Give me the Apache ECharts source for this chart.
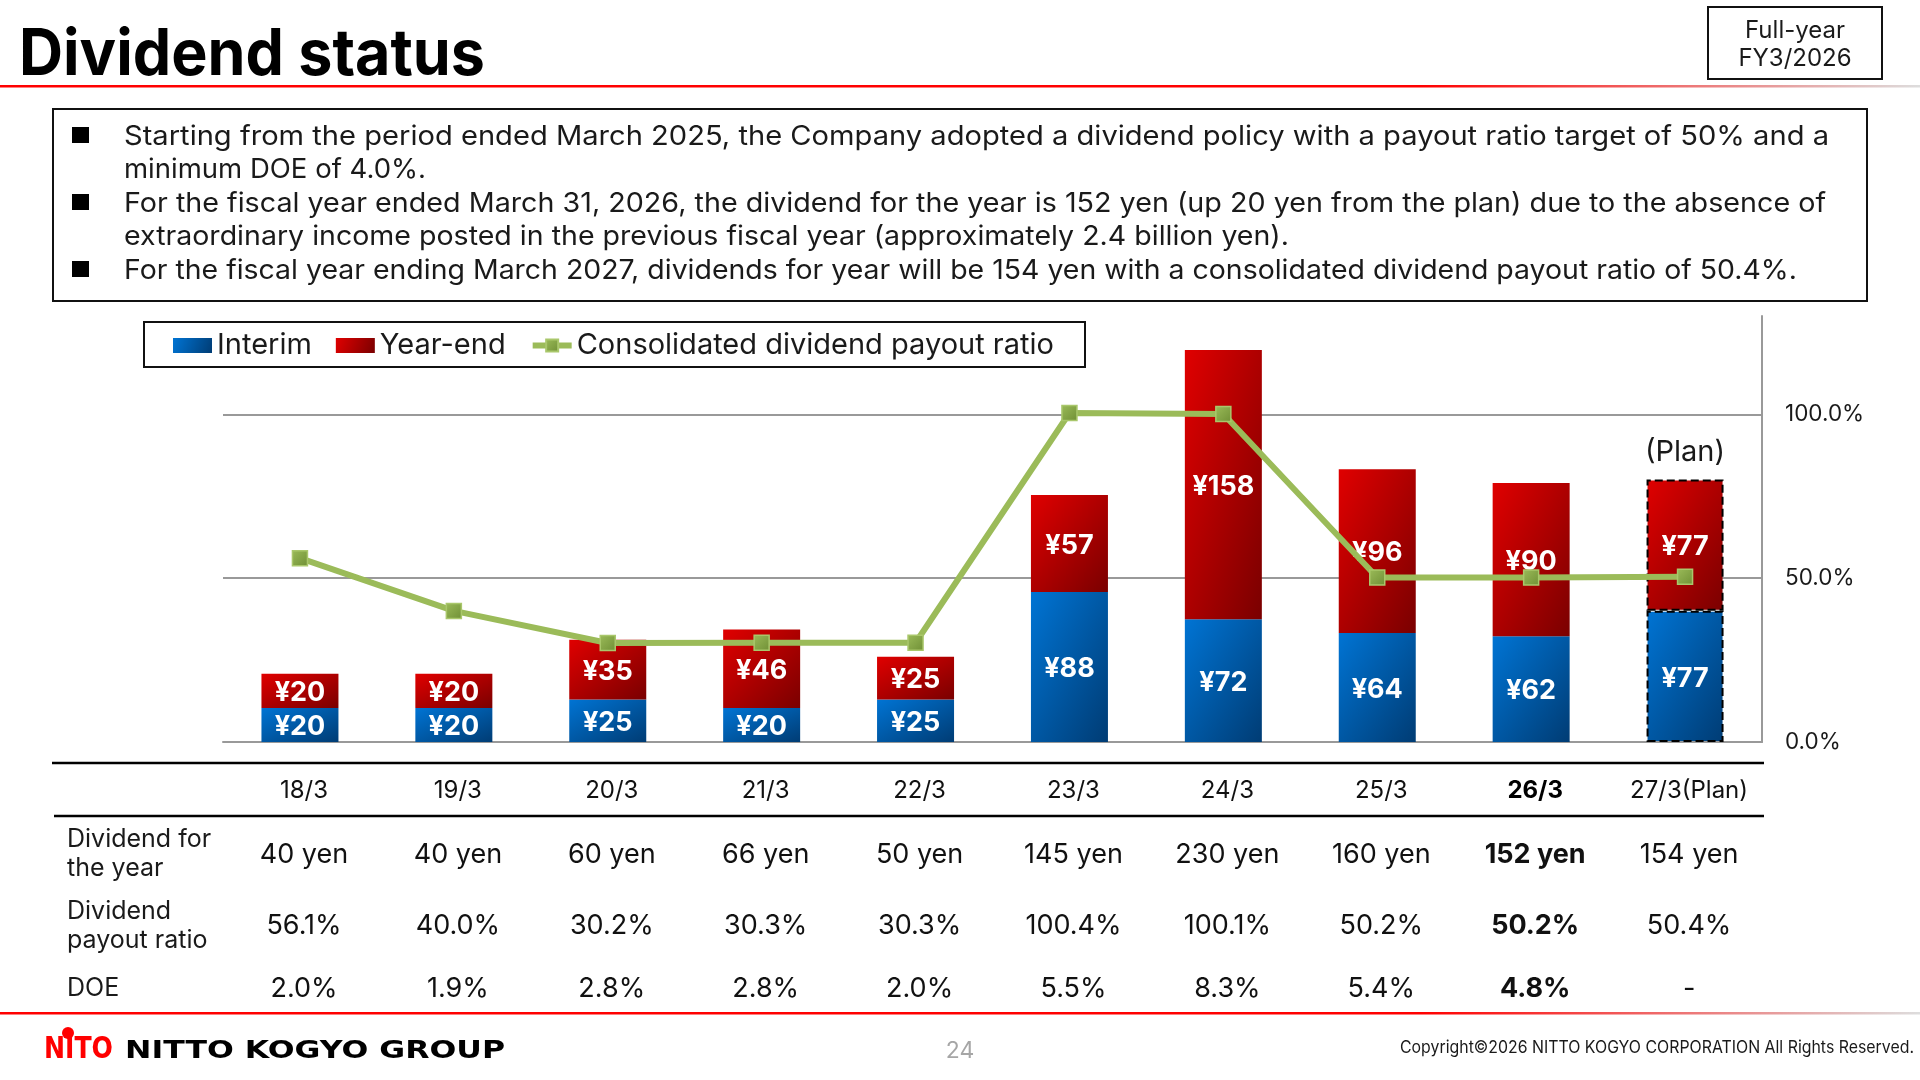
<!DOCTYPE html>
<html>
<head>
<meta charset="utf-8">
<title>Dividend status</title>
<style>
html, body { margin: 0; padding: 0; background: #fff; }
#chart { width: 1920px; height: 1080px; }
</style>
<script src="https://cdn.jsdelivr.net/npm/echarts@6/dist/echarts.min.js"></script>
</head>
<body>
<div id="chart"></div>
<script>
var categories = ['18/3', '19/3', '20/3', '21/3', '22/3', '23/3', '24/3', '25/3', '26/3', '27/3(Plan)'];
var interim = [20, 20, 25, 20, 25, 88, 72, 64, 62, 77];
var yearEnd = [20, 20, 35, 46, 25, 57, 158, 96, 90, 77];
var payoutRatio = [56.1, 40.0, 30.2, 30.3, 30.3, 100.4, 100.1, 50.2, 50.2, 50.4];
var dividendRow = ['40 yen', '40 yen', '60 yen', '66 yen', '50 yen', '145 yen', '230 yen', '160 yen', '152 yen', '154 yen'];
var payoutRow = ['56.1%', '40.0%', '30.2%', '30.3%', '30.3%', '100.4%', '100.1%', '50.2%', '50.2%', '50.4%'];
var doeRow = ['2.0%', '1.9%', '2.8%', '2.8%', '2.0%', '5.5%', '8.3%', '5.4%', '4.8%', '-'];
var bulletLines = [
    'Starting from the period ended March 2025, the Company adopted a dividend policy with a payout ratio target of 50% and a',
    'minimum DOE of 4.0%.',
    'For the fiscal year ended March 31, 2026, the dividend for the year is 152 yen (up 20 yen from the plan) due to the absence of',
    'extraordinary income posted in the previous fiscal year (approximately 2.4 billion yen).',
    'For the fiscal year ending March 2027, dividends for year will be 154 yen with a consolidated dividend payout ratio of 50.4%.'
];

var FONT = 'Inter, "Noto Sans", sans-serif';
var boldIndex = 8;
var planIndex = 9;
var BAR_WIDTH = 77;
var PX_PER_YEN = 426 / 250;

var measureCtx = document.createElement('canvas').getContext('2d');
function fitScale(text, font, width) {
    measureCtx.font = font;
    return width / measureCtx.measureText(text).width;
}

function label(text, x, y, font, opts) {
    opts = opts || {};
    return {
        type: 'text', silent: true, x: x, y: y, scaleX: opts.scaleX || 1, z: 20,
        style: {
            text: text, font: font, fill: opts.fill || '#1a1a1a',
            align: opts.align || 'left', textAlign: opts.align || 'left',
            verticalAlign: 'middle', textVerticalAlign: 'middle'
        }
    };
}

function frame(x, y, w, h) {
    return {
        type: 'rect', silent: true, z: 1,
        shape: {x: x, y: y, width: w, height: h},
        style: {fill: 'none', stroke: '#111', lineWidth: 2}
    };
}

function hline(x1, x2, y, color, width) {
    return {
        type: 'line', silent: true, z: 1,
        shape: {x1: x1, y1: y, x2: x2, y2: y},
        style: {stroke: color, lineWidth: width}
    };
}

function redRule(y) {
    return {
        type: 'rect', silent: true, z: 1,
        shape: {x: 0, y: y, width: 1920, height: 2.6},
        style: {fill: new echarts.graphic.LinearGradient(0, 0, 1, 0, [
            {offset: 0, color: '#ff0000'},
            {offset: 0.74, color: '#ff0000'},
            {offset: 1, color: '#dddddd'}
        ])}
    };
}

var graphics = [];
graphics.push(redRule(85), redRule(1012));

// heading
var titleFont = 'bold 64px ' + FONT;
graphics.push(label('Dividend status', 19, 56, titleFont, {fill: '#000', scaleX: fitScale('Dividend status', titleFont, 466)}));
graphics.push(frame(1708, 7, 174, 72));
graphics.push(label('Full-year', 1795, 31, '24px ' + FONT, {align: 'center'}));
graphics.push(label('FY3/2026', 1795, 59, '24px ' + FONT, {align: 'center'}));

// text box, each line fitted to the width it has in the slide
var bodyFont = '27px ' + FONT;
var bulletWidths = [1705, 302, 1702, 1165, 1673];
var bulletY = [137, 170, 204, 237, 271];
graphics.push(frame(53, 109, 1814, 192));
bulletLines.forEach(function (line, i) {
    graphics.push(label(line, 124, bulletY[i], bodyFont, {scaleX: fitScale(line, bodyFont, bulletWidths[i])}));
});
[0, 2, 4].forEach(function (i) {
    graphics.push({
        type: 'rect', silent: true, z: 2,
        shape: {x: 72, y: bulletY[i] - 10, width: 17, height: 16},
        style: {fill: '#000'}
    });
});

// legend frame, plan note
graphics.push(frame(144, 322, 941, 45));
graphics.push(label('(Plan)', 1685, 452, '29px ' + FONT, {align: 'center'}));

// table under the chart
graphics.push(hline(52, 1764, 763, '#000', 2.5));
graphics.push(hline(54, 1764, 816, '#000', 2.5));
graphics.push(label('Dividend for', 67, 839, '25px ' + FONT));
graphics.push(label('the year', 67, 868, '25px ' + FONT));
graphics.push(label('Dividend', 67, 911, '25px ' + FONT));
graphics.push(label('payout ratio', 67, 940, '25px ' + FONT));
graphics.push(label('DOE', 67, 988, '25px ' + FONT));
[[dividendRow, 855], [payoutRow, 926], [doeRow, 989]].forEach(function (row) {
    row[0].forEach(function (text, i) {
        var font = (i === boldIndex ? 'bold ' : '') + '27px ' + FONT;
        graphics.push(label(text, 304 + i * 153.9, row[1], font, {align: 'center', fill: '#111'}));
    });
});

// footer
var logoFont = 'bold 30px "DejaVu Sans", sans-serif';
var groupFont = 'bold 25px "DejaVu Sans", sans-serif';
graphics.push(label('NITO', 44, 1050, logoFont, {fill: '#ff0000', scaleX: fitScale('NITO', logoFont, 69)}));
graphics.push({type: 'circle', silent: true, z: 20, shape: {cx: 68, cy: 1033, r: 6}, style: {fill: '#ff0000'}});
graphics.push(label('NITTO KOGYO GROUP', 125, 1051, groupFont, {fill: '#000', scaleX: fitScale('NITTO KOGYO GROUP', groupFont, 380)}));
graphics.push(label('24', 960, 1051, '23px ' + FONT, {align: 'center', fill: '#a6a6a6'}));
var copyFont = '17px ' + FONT;
var copyText = 'Copyright\u00A92026 NITTO KOGYO CORPORATION All Rights Reserved.';
graphics.push(label(copyText, 1400, 1048, copyFont, {scaleX: fitScale(copyText, copyFont, 514)}));

function simpleGradient(from, to) {
    return new echarts.graphic.LinearGradient(0, 0, 1, 1, [
        {offset: 0, color: from},
        {offset: 1, color: to}
    ]);
}

// the slide's gradient runs corner to corner with its bands parallel to the other diagonal
function cornerGradient(h, from, to) {
    var w = BAR_WIDTH;
    var k = h * h + w * w;
    return new echarts.graphic.LinearGradient(0, 0, 2 * h * h / k, 2 * w * w / k, [
        {offset: 0, color: from},
        {offset: 1, color: to}
    ]);
}

function barData(values, from, to) {
    return values.map(function (v, i) {
        var item = {
            value: v,
            itemStyle: {color: cornerGradient(v * PX_PER_YEN, from, to)}
        };
        if (i === planIndex) {
            item.itemStyle.borderColor = '#000';
            item.itemStyle.borderWidth = 2;
            item.itemStyle.borderType = 'dashed';
        }
        return item;
    });
}

var yenLabel = {
    show: true,
    position: 'inside',
    offset: [0, 2],
    color: '#fff',
    fontFamily: FONT,
    fontWeight: 'bold',
    fontSize: 27,
    formatter: function (p) { return '\u00A5' + p.value; }
};

var chart = echarts.init(document.getElementById('chart'));
chart.setOption({
    animation: false,
    backgroundColor: '#fff',
    graphic: graphics,
    legend: {
        left: 173,
        top: 322,
        padding: [9, 0, 8, 0],
        itemWidth: 39,
        itemHeight: 15,
        itemGap: 24,
        lineStyle: {width: 6},
        textStyle: {fontFamily: FONT, fontSize: 29, color: '#1a1a1a'},
        data: [
            {name: 'Interim', icon: 'rect'},
            {name: 'Year-end', icon: 'rect'},
            {name: 'Consolidated dividend payout ratio'}
        ]
    },
    grid: {left: 223, right: 158, top: 316, height: 426},
    xAxis: {
        type: 'category',
        data: categories,
        axisTick: {show: false},
        axisLine: {lineStyle: {color: '#999', width: 2}},
        axisLabel: {
            interval: 0,
            margin: 37,
            padding: [0, 0, 0, 8],
            fontFamily: FONT,
            fontSize: 24,
            color: '#111',
            formatter: function (v, i) {
                return i === boldIndex ? '{b|' + v + '}' : v;
            },
            rich: {b: {fontFamily: FONT, fontSize: 24, fontWeight: 'bold', color: '#000'}}
        }
    },
    yAxis: [{
        type: 'value',
        min: 0,
        max: 250,
        show: false
    }, {
        type: 'value',
        position: 'right',
        min: 0,
        max: 130,
        interval: 50,
        axisLine: {show: true, lineStyle: {color: '#999', width: 2}},
        axisTick: {show: false},
        splitLine: {show: true, showMaxLine: false, lineStyle: {color: '#999', width: 2}},
        axisLabel: {
            margin: 23,
            showMaxLabel: false,
            fontFamily: FONT,
            fontSize: 22.5,
            color: '#1a1a1a',
            formatter: function (v) { return v % 50 === 0 ? v.toFixed(1) + '%' : ''; }
        }
    }],
    series: [{
        name: 'Interim',
        type: 'bar',
        stack: 'dividend',
        barWidth: BAR_WIDTH,
        z: 3,
        itemStyle: {color: simpleGradient('#0074d4', '#003c74')},
        label: yenLabel,
        data: barData(interim, '#0074d4', '#003c74')
    }, {
        name: 'Year-end',
        type: 'bar',
        stack: 'dividend',
        barWidth: BAR_WIDTH,
        z: 3,
        itemStyle: {color: simpleGradient('#e00000', '#7a0000')},
        label: yenLabel,
        data: barData(yearEnd, '#e00000', '#7a0000')
    }, {
        name: 'Consolidated dividend payout ratio',
        type: 'line',
        yAxisIndex: 1,
        z: 10,
        symbol: 'rect',
        symbolSize: 15,
        lineStyle: {color: '#9bbb59', width: 6},
        itemStyle: {
            color: simpleGradient('#9bbb59', '#6f8f35'),
            borderColor: '#a9c76b',
            borderWidth: 1.5
        },
        data: payoutRatio
    }]
});
</script>
</body>
</html>
